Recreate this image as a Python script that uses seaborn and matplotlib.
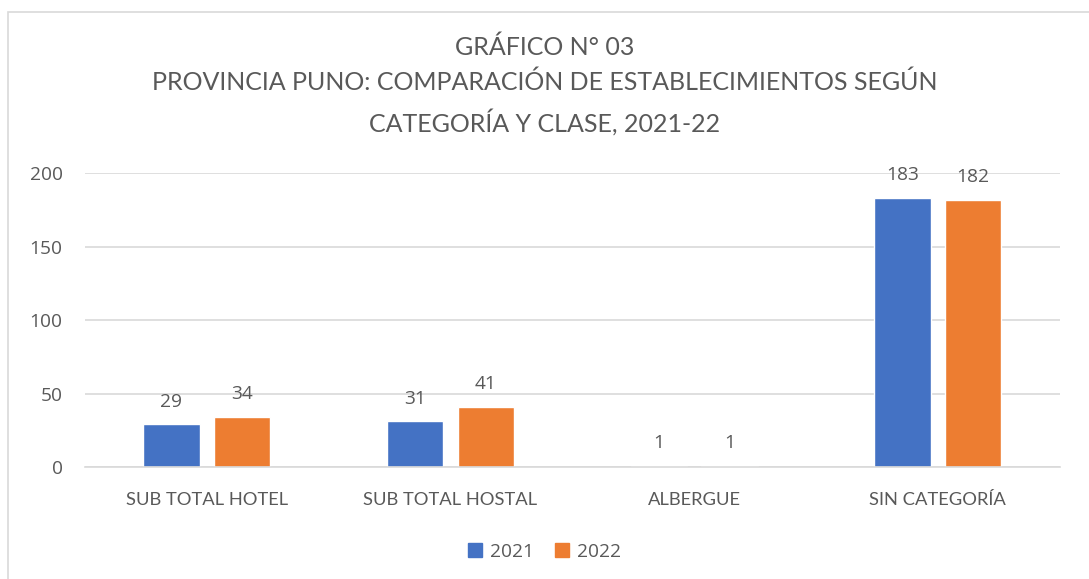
import pandas as pd
import matplotlib.pyplot as plt
import matplotlib.patches as mpatches
import seaborn as sns

categories = ["SUB TOTAL HOTEL", "SUB TOTAL HOSTAL", "ALBERGUE", "SIN CATEGORÍA"]
values_2021 = [29, 31, 1, 183]
values_2022 = [34, 41, 1, 182]
years = ["2021", "2022"]
colors = ["#4472C4", "#ED7D31"]
y_ticks = [0, 50, 100, 150, 200]

title = ("GRÁFICO N° 03\n"
         "PROVINCIA PUNO: COMPARACIÓN DE ESTABLECIMIENTOS SEGÚN\n"
         "CATEGORÍA Y CLASE, 2021-22")

TEXT = "#595959"
GRID = "#D9D9D9"
FS = 13.2
NUM_FONT = ["Open Sans", "DejaVu Sans"]
NUM_FS = 13.8

df = pd.DataFrame({
    "categoria": categories * 2,
    "anio": [years[0]] * 4 + [years[1]] * 4,
    "valor": values_2021 + values_2022,
})

sns.set_theme(style="white")
plt.rcParams["font.family"] = ["Lato", "DejaVu Sans"]

fig = plt.figure(figsize=(10.89, 5.79), dpi=100)
ax = fig.add_axes([0.078, 0.1934, 0.895, 0.5076])

sns.barplot(data=df, x="categoria", y="valor", hue="anio",
            palette=colors, width=0.58, gap=0.2, ax=ax,
            saturation=1, legend=True, errorbar=None)

for cont in ax.containers:
    ax.bar_label(cont, labels=[f"{int(v)}" for v in cont.datavalues],
                 padding=10, fontsize=NUM_FS, color=TEXT, family=NUM_FONT)

ax.set_ylim(0, 200)
ax.set_yticks(y_ticks)
ax.set_xlim(-0.5, 3.5)
ax.grid(axis="y", color=GRID, linewidth=1.2)
ax.set_axisbelow(True)
for s in ["top", "right", "left"]:
    ax.spines[s].set_visible(False)
ax.spines["bottom"].set_color(GRID)
ax.spines["bottom"].set_linewidth(1.2)
ax.set_xlabel("")
ax.set_ylabel("")
ax.tick_params(axis="both", length=0, labelsize=FS, labelcolor=TEXT)
ax.tick_params(axis="x", pad=18)
ax.tick_params(axis="y", pad=16)
for lab in ax.get_yticklabels():
    lab.set_family(NUM_FONT)
    lab.set_fontsize(NUM_FS)

handles = [mpatches.Patch(color=c) for c in colors]
ax.get_legend().remove()
fig.legend(handles, years, loc="center", bbox_to_anchor=(0.5, 0.047),
           ncol=2, frameon=False, labelcolor=TEXT,
           prop={"family": NUM_FONT, "size": NUM_FS},
           handlelength=0.75, handleheight=0.75, handletextpad=0.4,
           columnspacing=1.1)

fig.text(0.5, 0.853, title, ha="center", va="center", fontsize=18,
         color=TEXT, linespacing=1.62)

border = mpatches.Rectangle((8 / 1089, -0.05), 1.0, 1.05 - 12 / 579,
                            transform=fig.transFigure, fill=False,
                            edgecolor=GRID, linewidth=1.2)
fig.patches.append(border)

fig.savefig("out.png", dpi=100)
